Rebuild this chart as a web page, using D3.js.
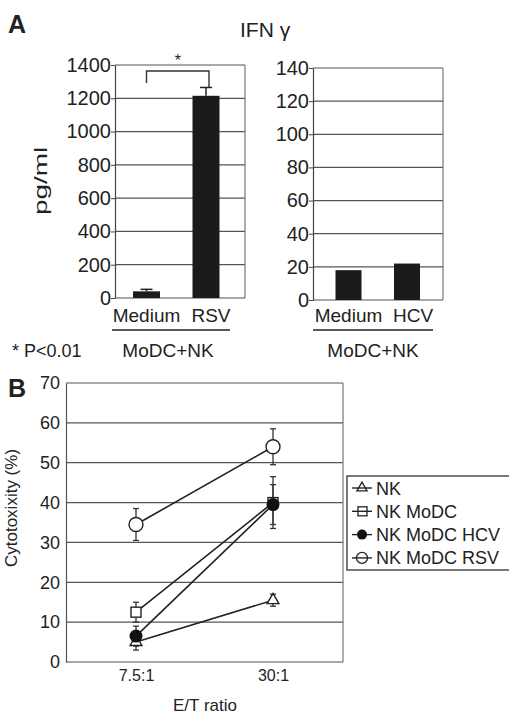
<!DOCTYPE html>
<html>
<head>
<meta charset="utf-8">
<script src="https://cdn.jsdelivr.net/npm/d3@7"></script>
<style>
  body { margin: 0; background: #fff; }
  svg text { font-family: "Liberation Sans", Arial, sans-serif; fill: #222; }
  .grid line { stroke: #555; stroke-width: 1.2; }
</style>
</head>
<body>
<div id="chart"></div>
<script>
// panel A data
var catsRSV = ["Medium", "RSV"];
var valsRSV = [40, 1215];
var errRSV = [12, 50];
var ticksRSV = [0, 200, 400, 600, 800, 1000, 1200, 1400];

var catsHCV = ["Medium", "HCV"];
var valsHCV = [18, 22];
var ticksHCV = [0, 20, 40, 60, 80, 100, 120, 140];

// panel B data
var ratios = ["7.5:1", "30:1"];
var seriesNames = ["NK", "NK MoDC", "NK MoDC HCV", "NK MoDC RSV"];
var nkVals = [5, 15.5];
var nkErr = [2, 1.5];
var modcVals = [12.5, 40];
var modcErr = [2.5, 6.5];
var hcvVals = [6.5, 39.5];
var hcvErr = [2.5, 5];
var rsvVals = [34.5, 54];
var rsvErr = [4, 4.5];
var cytoTicks = [0, 10, 20, 30, 40, 50, 60, 70];

var svg = d3.select("#chart").append("svg")
            .attr("width", 509)
            .attr("height", 715);

svg.append("text").attr("x", 8).attr("y", 33)
   .style("font-size", "25px").style("font-weight", "bold").text("A");
svg.append("text").attr("x", 240).attr("y", 37)
   .style("font-size", "21px").text("IFN \u03b3");

function barPanel(cats, vals, errs, ticks, xr, yr, xPts, barW, labelShift) {
    var y = d3.scaleLinear().domain([0, ticks[ticks.length - 1]]).range(yr);
    var x = d3.scalePoint().domain(cats).range(xPts);

    var g = svg.append("g");
    // gridlines
    g.append("g").attr("class", "grid")
     .selectAll("line").data(ticks.slice(1)).enter().append("line")
     .attr("x1", xr[0]).attr("x2", xr[1])
     .attr("y1", d => y(d)).attr("y2", d => y(d));
    // right frame
    g.append("line").attr("x1", xr[1]).attr("x2", xr[1]).attr("y1", yr[0]).attr("y2", yr[1])
     .attr("stroke", "#777").attr("stroke-width", 1.2);

    var axis = g.append("g").attr("transform", "translate(" + xr[0] + ",0)")
                .call(d3.axisLeft(y).tickValues(ticks).tickFormat(d3.format("d"))
                        .tickSize(4).tickSizeOuter(0));
    axis.select(".domain").attr("stroke", "#444").attr("stroke-width", 1.2);
    axis.selectAll(".tick line").attr("stroke", "#444");
    axis.selectAll("text").style("font-size", "20px").attr("x", -4).attr("fill", "#222");

    // baseline
    g.append("line").attr("x1", xr[0]).attr("x2", xr[1]).attr("y1", yr[0]).attr("y2", yr[0])
     .attr("stroke", "#555").attr("stroke-width", 1.2);

    g.selectAll("rect.bar").data(vals).enter().append("rect")
     .attr("class", "bar")
     .attr("x", (d, i) => x(cats[i]) - barW / 2)
     .attr("width", barW)
     .attr("y", d => y(d))
     .attr("height", d => y(0) - y(d))
     .attr("fill", "#1b1b1b");

    if (errs) {
        errs.forEach(function(e, i) {
            var cx = x(cats[i]);
            g.append("line").attr("x1", cx).attr("x2", cx)
             .attr("y1", y(vals[i])).attr("y2", y(vals[i] + e))
             .attr("stroke", "#222").attr("stroke-width", 1.5);
            g.append("line").attr("x1", cx - 6).attr("x2", cx + 6)
             .attr("y1", y(vals[i] + e)).attr("y2", y(vals[i] + e))
             .attr("stroke", "#222").attr("stroke-width", 1.5);
        });
    }

    g.selectAll("text.cat").data(cats).enter().append("text")
     .attr("class", "cat")
     .attr("x", (d, i) => x(d) + labelShift[i]).attr("y", 322)
     .attr("text-anchor", "middle")
     .style("font-size", "19px")
     .text(d => d);

    return {x: x, y: y};
}

var left = barPanel(catsRSV, valsRSV, errRSV, ticksRSV, [115, 245], [298, 65], [146.5, 206], 27, [0, 5]);
var right = barPanel(catsHCV, valsHCV, null, ticksHCV, [313, 443], [300, 68], [348.5, 407], 26, [0, 6]);

// significance bracket
var bx1 = left.x("Medium"), bx2 = left.x("RSV") + 3;
svg.append("path")
   .attr("d", "M" + bx1 + "," + 83 + "V" + 71 + "H" + bx2 + "V" + 87)
   .attr("fill", "none").attr("stroke", "#333").attr("stroke-width", 1.4);
svg.append("text").attr("x", (bx1 + bx2) / 2).attr("y", 66)
   .attr("text-anchor", "middle").style("font-size", "16px").text("*");

// group underlines and labels
[[112, 230, 168], [313, 433, 373]].forEach(function(u) {
    svg.append("line").attr("x1", u[0]).attr("x2", u[1]).attr("y1", 330).attr("y2", 330)
       .attr("stroke", "#222").attr("stroke-width", 1.5);
    svg.append("text").attr("x", u[2]).attr("y", 357).attr("text-anchor", "middle")
       .style("font-size", "19px").text("MoDC+NK");
});
svg.append("text").attr("x", 12).attr("y", 357).style("font-size", "18px").text("* P<0.01");

// ---- panel B ----
svg.append("text").attr("x", 8).attr("y", 397)
   .style("font-size", "25px").style("font-weight", "bold").text("B");

var bx = d3.scalePoint().domain(ratios).range([136, 273]);
var by = d3.scaleLinear().domain([0, 70]).range([662, 383]);
var bL = 66, bR = 343;

var gb = svg.append("g");
gb.append("g").attr("class", "grid")
  .selectAll("line").data(cytoTicks.slice(1)).enter().append("line")
  .attr("x1", bL).attr("x2", bR)
  .attr("y1", d => by(d)).attr("y2", d => by(d));
gb.append("line").attr("x1", bR).attr("x2", bR).attr("y1", by(0)).attr("y2", by(70))
  .attr("stroke", "#777").attr("stroke-width", 1.2);
gb.append("line").attr("x1", bL).attr("x2", bR).attr("y1", by(0)).attr("y2", by(0))
  .attr("stroke", "#555").attr("stroke-width", 1.2);

var yAx = gb.append("g").attr("transform", "translate(" + bL + ",0)")
            .call(d3.axisLeft(by).tickValues(cytoTicks).tickSize(0).tickPadding(6));
yAx.select(".domain").attr("stroke", "#555").attr("stroke-width", 1.2);
yAx.selectAll("text").style("font-size", "18px").attr("fill", "#333");

var xAx = gb.append("g").attr("transform", "translate(0," + by(0) + ")")
            .call(d3.axisBottom(bx).tickSize(0).tickPadding(8));
xAx.select(".domain").remove();
xAx.selectAll("text").style("font-size", "16px").attr("fill", "#333");

svg.append("text").attr("x", 205).attr("y", 711).attr("text-anchor", "middle")
   .style("font-size", "17px").text("E/T ratio");
svg.append("text").attr("transform", "translate(17,508) rotate(-90)")
   .attr("text-anchor", "middle").style("font-size", "17px").text("Cytotoxixity (%)");
svg.append("text").attr("transform", "translate(47,181) rotate(-90) scale(1.55,1)")
   .attr("text-anchor", "middle").style("font-size", "18px").text("pg/ml");

var series = [
    {name: seriesNames[0], vals: nkVals, err: nkErr, shape: "tri"},
    {name: seriesNames[1], vals: modcVals, err: modcErr, shape: "sq"},
    {name: seriesNames[2], vals: hcvVals, err: hcvErr, shape: "dot"},
    {name: seriesNames[3], vals: rsvVals, err: rsvErr, shape: "circ"}
];

function marker(g, shape, cx, cy) {
    if (shape == "tri") {
        g.append("path").attr("d", d3.symbol(d3.symbolTriangle, 60)())
         .attr("transform", "translate(" + cx + "," + cy + ")")
         .attr("fill", "#fff").attr("stroke", "#222").attr("stroke-width", 1.4);
    } else if (shape == "sq") {
        g.append("rect").attr("x", cx - 5).attr("y", cy - 5).attr("width", 10).attr("height", 10)
         .attr("fill", "#fff").attr("stroke", "#222").attr("stroke-width", 1.4);
    } else if (shape == "dot") {
        g.append("circle").attr("cx", cx).attr("cy", cy).attr("r", 6.5).attr("fill", "#111");
    } else {
        g.append("circle").attr("cx", cx).attr("cy", cy).attr("r", 7)
         .attr("fill", "#fff").attr("stroke", "#222").attr("stroke-width", 1.4);
    }
}

var line = d3.line().x((d, i) => bx(ratios[i])).y(d => by(d));

series.forEach(function(s) {
    var g = gb.append("g");
    s.vals.forEach(function(v, i) {
        var cx = bx(ratios[i]);
        g.append("line").attr("x1", cx).attr("x2", cx)
         .attr("y1", by(v - s.err[i])).attr("y2", by(v + s.err[i]))
         .attr("stroke", "#333").attr("stroke-width", 1.3);
        [v - s.err[i], v + s.err[i]].forEach(function(e) {
            g.append("line").attr("x1", cx - 3).attr("x2", cx + 3)
             .attr("y1", by(e)).attr("y2", by(e))
             .attr("stroke", "#333").attr("stroke-width", 1.3);
        });
    });
    g.append("path").datum(s.vals).attr("d", line)
     .attr("fill", "none").attr("stroke", "#222").attr("stroke-width", 1.6);
});
series.forEach(function(s) {
    s.vals.forEach(function(v, i) { marker(gb, s.shape, bx(ratios[i]), by(v)); });
});

// legend
var lg = svg.append("g");
lg.append("rect").attr("x", 347).attr("y", 476).attr("width", 170).attr("height", 94)
  .attr("fill", "#fff").attr("stroke", "#333").attr("stroke-width", 1.3);
series.forEach(function(s, i) {
    var yy = 488 + i * 23.3;
    lg.append("line").attr("x1", 352).attr("x2", 372).attr("y1", yy).attr("y2", yy)
      .attr("stroke", "#222").attr("stroke-width", 1.4);
    var m = lg.append("g");
    if (s.shape == "tri") {
        m.append("path").attr("d", d3.symbol(d3.symbolTriangle, 45)())
         .attr("transform", "translate(362," + yy + ")")
         .attr("fill", "none").attr("stroke", "#222").attr("stroke-width", 1.3);
    } else if (s.shape == "sq") {
        m.append("rect").attr("x", 358).attr("y", yy - 4.5).attr("width", 9).attr("height", 9)
         .attr("fill", "none").attr("stroke", "#222").attr("stroke-width", 1.3);
    } else if (s.shape == "dot") {
        m.append("circle").attr("cx", 362).attr("cy", yy).attr("r", 5).attr("fill", "#111");
    } else {
        m.append("circle").attr("cx", 362).attr("cy", yy).attr("r", 5.5)
         .attr("fill", "none").attr("stroke", "#222").attr("stroke-width", 1.3);
    }
    lg.append("text").attr("x", 376).attr("y", yy + 6.5)
      .style("font-size", "18px").text(s.name);
});
</script>
</body>
</html>
